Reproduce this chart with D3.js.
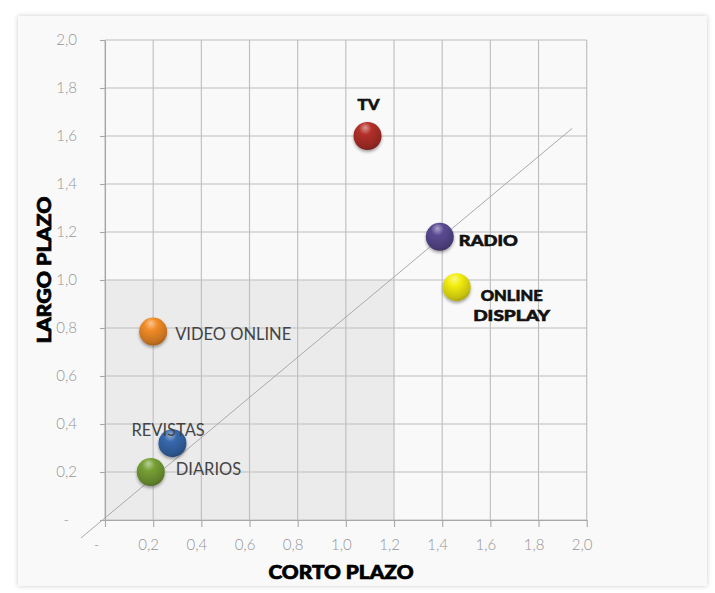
<!DOCTYPE html>
<html>
<head>
<meta charset="utf-8">
<script src="https://cdn.jsdelivr.net/npm/d3@7/dist/d3.min.js"></script>
<style>
  html, body { margin: 0; padding: 0; background: #ffffff; }
  svg { display: block; }
</style>
</head>
<body>
<svg id="chart" width="715" height="593"></svg>
<script>
// Medios: corto plazo (x) vs largo plazo (y)
const medios      = ["TV", "RADIO", "ONLINE DISPLAY", "VIDEO ONLINE", "REVISTAS", "DIARIOS"];
const cortoPlazo  = [1.09, 1.39, 1.46, 0.20, 0.28, 0.19];
const largoPlazo  = [1.60, 1.18, 0.97, 0.785, 0.32, 0.20];
const colores     = ["#b3302a", "#5a4a92", "#f4ee10", "#f28c28", "#3768ad", "#77a035"];

// Ejes
const ticks       = [0, 0.2, 0.4, 0.6, 0.8, 1.0, 1.2, 1.4, 1.6, 1.8, 2.0];
const tickLabels  = ["-", "0,2", "0,4", "0,6", "0,8", "1,0", "1,2", "1,4", "1,6", "1,8", "2,0"];

// Zona sombreada y línea de tendencia
const zonaX       = [0, 1.2];
const zonaY       = [0, 1.0];
const lineaX      = [-0.1, 1.94];
const lineaY      = [-0.075, 1.632];

// Ubicación de cada etiqueta respecto a su punto (ancho en px para los rótulos en negrita)
const etiquetas = {
  "TV":             { dx: 1,   dy: [-32],    anchor: "middle", bold: true, widths: [22] },
  "RADIO":          { dx: 19,  dy: [3],      anchor: "start",  bold: true, widths: [59] },
  "ONLINE DISPLAY": { dx: 55,  dy: [8, 28],  anchor: "middle", bold: true, widths: [62, 77], lines: ["ONLINE", "DISPLAY"] },
  "VIDEO ONLINE":   { dx: 22,  dy: [2],      anchor: "start",  bold: false },
  "REVISTAS":       { dx: -41, dy: [-13],    anchor: "start",  bold: false },
  "DIARIOS":        { dx: 25,  dy: [-3],     anchor: "start",  bold: false }
};

const svg = d3.select("#chart");
const defs = svg.append("defs");

// Tarjeta de fondo con sombra suave
const shadow = defs.append("filter").attr("id", "cardShadow")
  .attr("x", "-5%").attr("y", "-5%").attr("width", "110%").attr("height", "110%");
shadow.append("feDropShadow").attr("dx", 0).attr("dy", 0).attr("stdDeviation", 2.5)
  .attr("flood-color", "#000").attr("flood-opacity", 0.2);

svg.append("rect")
  .attr("x", 18).attr("y", 16).attr("width", 689).attr("height", 570)
  .attr("fill", "#f9f9f9")
  .attr("filter", "url(#cardShadow)");

const x = d3.scaleLinear().domain([0, 2]).range([105, 586.7]);
const y = d3.scaleLinear().domain([0, 2]).range([520, 40]);

// Zona sombreada
svg.append("rect")
  .attr("x", x(zonaX[0])).attr("y", y(zonaY[1]))
  .attr("width", x(zonaX[1]) - x(zonaX[0]))
  .attr("height", y(zonaY[0]) - y(zonaY[1]))
  .attr("fill", "#ebebeb");

// Cuadrícula
const grid = svg.append("g").attr("stroke", "#bdbdbd").attr("stroke-width", 1.1);
grid.selectAll("line.v").data(ticks).join("line")
  .attr("class", "v")
  .attr("x1", d => x(d)).attr("x2", d => x(d))
  .attr("y1", y(2)).attr("y2", y(0));
grid.selectAll("line.h").data(ticks).join("line")
  .attr("class", "h")
  .attr("y1", d => y(d)).attr("y2", d => y(d))
  .attr("x1", x(0)).attr("x2", x(2));

// Ejes con marcas
const fmt = d => tickLabels[ticks.indexOf(d)];
const xAxis = svg.append("g")
  .attr("transform", `translate(0,${y(0)})`)
  .call(d3.axisBottom(x).tickValues(ticks).tickFormat(fmt).tickSizeInner(7).tickSizeOuter(0).tickPadding(12));
const yAxis = svg.append("g")
  .attr("transform", `translate(${x(0)},0)`)
  .call(d3.axisLeft(y).tickValues(ticks).tickFormat(fmt).tickSizeInner(5).tickSizeOuter(0).tickPadding(23));

[xAxis, yAxis].forEach(a => {
  a.select(".domain").attr("stroke", "#a8a8a8").attr("stroke-width", 1.1);
  a.selectAll(".tick line").attr("stroke", "#a8a8a8").attr("stroke-width", 1.1);
  a.selectAll(".tick text")
    .attr("fill", "#959595")
    .attr("font-family", "Lato, 'Open Sans', sans-serif")
    .attr("font-weight", 300)
    .attr("font-size", 15);
});
xAxis.selectAll(".tick text").attr("dx", -5);
xAxis.selectAll(".tick text").filter(d => d === 0).attr("dx", -9);
yAxis.selectAll(".tick text").filter(d => d === 0).attr("dx", -8);

// Línea de tendencia
svg.append("line")
  .attr("x1", x(lineaX[0])).attr("y1", y(lineaY[0]))
  .attr("x2", x(lineaX[1])).attr("y2", y(lineaY[1]))
  .attr("stroke", "#a9a9a9").attr("stroke-width", 1);

// Esferas
const ballShadow = defs.append("filter").attr("id", "ballShadow")
  .attr("x", "-50%").attr("y", "-50%").attr("width", "200%").attr("height", "200%");
ballShadow.append("feDropShadow").attr("dx", 0).attr("dy", 2).attr("stdDeviation", 1.6)
  .attr("flood-color", "#000").attr("flood-opacity", 0.35);

colores.forEach((c, i) => {
  const g = defs.append("radialGradient").attr("id", "sph" + i)
    .attr("cx", "42%").attr("cy", "30%").attr("r", "75%").attr("fx", "42%").attr("fy", "20%");
  const base = d3.color(c);
  g.append("stop").attr("offset", "0%").attr("stop-color", d3.interpolateRgb(c, "#ffffff")(0.5));
  g.append("stop").attr("offset", "30%").attr("stop-color", c);
  g.append("stop").attr("offset", "80%").attr("stop-color", base.darker(0.6));
  g.append("stop").attr("offset", "100%").attr("stop-color", base.darker(1.2));
});

const puntos = medios.map((m, i) => ({ m, cx: cortoPlazo[i], cy: largoPlazo[i], i }));

svg.append("g").selectAll("circle").data(puntos).join("circle")
  .attr("cx", d => x(d.cx)).attr("cy", d => y(d.cy))
  .attr("r", 14)
  .attr("fill", d => `url(#sph${d.i})`)
  .attr("filter", "url(#ballShadow)");

// Etiquetas
const labels = svg.append("g");
puntos.forEach(d => {
  const e = etiquetas[d.m];
  const lines = e.lines || [d.m];
  lines.forEach((t, k) => {
    const txt = labels.append("text")
      .attr("x", x(d.cx) + e.dx)
      .attr("y", y(d.cy) + e.dy[k])
      .attr("dominant-baseline", "central")
      .attr("text-anchor", e.anchor)
      .attr("font-family", "Lato, 'Open Sans', sans-serif")
      .attr("font-weight", e.bold ? 900 : 400)
      .attr("font-size", e.bold ? 15.5 : 16.5)
      .attr("fill", e.bold ? "#111111" : "#444444")
      .text(t);
    if (e.bold) {
      txt.attr("textLength", e.widths[k]).attr("lengthAdjust", "spacingAndGlyphs")
        .attr("stroke", "#111111").attr("stroke-width", 0.6);
    }
  });
});

// Títulos de ejes
const titulo = (sel) => sel
  .attr("dominant-baseline", "central").attr("text-anchor", "middle")
  .attr("font-family", "Lato, 'Open Sans', sans-serif")
  .attr("font-weight", 900).attr("font-size", 18).attr("fill", "#000")
  .attr("stroke", "#000").attr("stroke-width", 0.7)
  .attr("lengthAdjust", "spacingAndGlyphs");

svg.append("text")
  .attr("x", 341).attr("y", 572)
  .call(titulo)
  .attr("textLength", 145)
  .text("CORTO PLAZO");

svg.append("text")
  .attr("transform", "translate(44,270) rotate(-90)")
  .call(titulo)
  .attr("textLength", 147)
  .text("LARGO PLAZO");
</script>
</body>
</html>
